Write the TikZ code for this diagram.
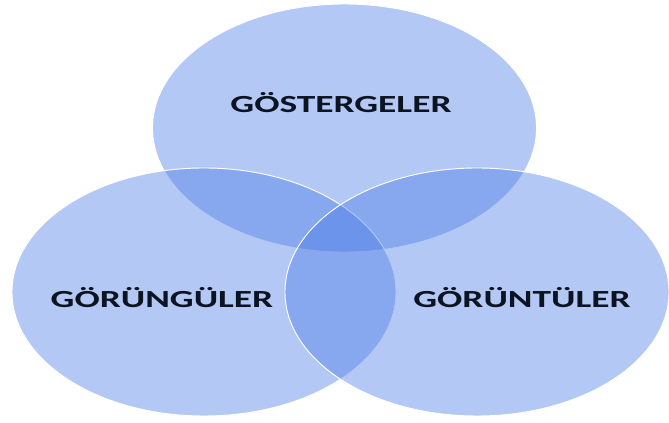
\documentclass[tikz,border=0pt]{standalone}
\usepackage{fontspec}
\usepackage{tikz}
\usetikzlibrary{positioning,shapes}
\newfontfamily\lblfont{Carlito}
\definecolor{vennblue}{RGB}{67,118,230}
\definecolor{lbltext}{RGB}{12,20,34}

\begin{document}
\begin{tikzpicture}[x=0.03cm, y=0.03cm,
    venn/.style={draw=white, line width=0.8pt, ellipse, fill=vennblue, fill opacity=0.4, minimum width=11.52cm, minimum height=7.44cm, inner sep=0pt},
    lbl/.style={text=lbltext, font=\lblfont\fontsize{21}{25}\selectfont\bfseries, inner sep=0pt}]
            \useasboundingbox (0,0) rectangle (669,423);
            \node [venn] (gost) at (344.5,295) {};
            \node [venn] (gorung) at (204,131) {};
            \node [venn] (goruntu) at (477,131) {};
            
            \node [lbl] (gostlbl) at (341,320) {\scalebox{1.52}[1]{GÖSTERGELER}};
            \node [lbl] (gorunglbl) at (162,125) {\scalebox{1.52}[1]{GÖRÜNGÜLER}};
            \node [lbl] (goruntulbl) at (522,125) {\scalebox{1.52}[1]{GÖRÜNTÜLER}};
          \end{tikzpicture}
\end{document}
